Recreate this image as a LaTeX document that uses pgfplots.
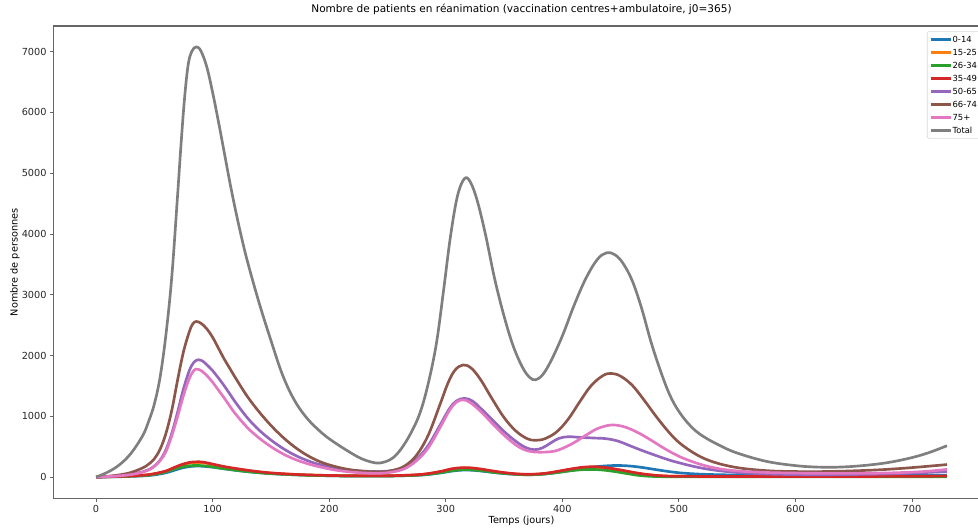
\documentclass[border=0pt]{standalone}
\usepackage{pgfplots}
\pgfplotsset{compat=1.18}
\usepackage{fontspec}
\setmainfont{DejaVu Sans}

\definecolor{c0}{HTML}{1F77B4}
\definecolor{c1}{HTML}{FF7F0E}
\definecolor{c2}{HTML}{2CA02C}
\definecolor{c3}{HTML}{D62728}
\definecolor{c4}{HTML}{9467BD}
\definecolor{c5}{HTML}{8C564B}
\definecolor{c6}{HTML}{E377C2}
\definecolor{c7}{HTML}{7F7F7F}

\begin{document}
\begin{tikzpicture}
\useasboundingbox (0,0) rectangle (733.5pt,396.75pt);
\clip (0,0) rectangle (733.5pt,396.75pt);
\begin{axis}[
  at={(40.125pt,22.875pt)}, anchor=south west,
  width=702pt, height=354.375pt, scale only axis,
  xmin=-36.5, xmax=766.5, ymin=-353.5, ymax=7423,
  xtick={0,100,...,700}, ytick={0,1000,...,7000},
  xtick pos=bottom, ytick pos=left,
  tick align=outside, major tick length=2.6pt,
  every tick/.style={black!60, line width=0.6pt},
  axis line style={black!60, line width=0.8pt},
  /pgf/number format/assume math mode=true,
  /pgf/number format/1000 sep={},
  ticklabel style={font=\fontsize{7.3}{8.5}\selectfont, text=black!85},
  xticklabel style={anchor=base, inner sep=0pt, yshift=-8.2pt},
  yticklabel style={anchor=east, inner sep=0pt, xshift=-2.4pt},
  title={Nombre de patients en réanimation (vaccination centres+ambulatoire, j0=365)},
  title style={font=\fontsize{7.9}{9}\selectfont, at={(axis description cs:0.5,1.0116)}, anchor=base},
  xlabel={Temps (jours)},
  xlabel style={font=\fontsize{7.3}{8.5}\selectfont, at={(axis description cs:0.5,-0.0519)}, anchor=base},
  ylabel={Nombre de personnes},
  ylabel style={font=\fontsize{7.3}{8.5}\selectfont, at={(axis description cs:-0.0412,0.5)}, anchor=center},
  legend cell align=left,
  legend style={at={(axis description cs:0.9332,0.9894)}, anchor=north west,
    draw=black!15, line width=0.5pt, rounded corners=1pt,
    font=\fontsize{6.3}{7.5}\selectfont, row sep=2.75pt,
    inner xsep=1.5pt, inner ysep=2.5pt,
    nodes={inner sep=0.5pt, text height=5pt, text depth=1pt}},
  legend image code/.code={\draw[#1, line width=2pt] (0pt,0pt) -- (15pt,0pt);},
  every axis plot/.append style={line width=2pt, smooth, tension=0.6, no markers, line join=round},
]
% 0-14
\addplot[c0] coordinates {(0,0)(20,5)(40,18)(50,35)(60,70)(65,98)(70,128)(75,155)(80,172)(86,180)(92,177)(100,162)(110,135)(120,110)(130,88)(140,70)(150,56)(165,41)(180,31)(200,21)(220,16)(240,15)(260,20)(280,34)(295,66)(305,97)(315,115)(325,109)(335,88)(345,66)(355,50)(365,40)(375,39)(385,50)(395,72)(405,101)(415,131)(425,160)(435,180)(445,190)(455,185)(465,167)(475,138)(485,108)(495,81)(505,62)(520,46)(540,36)(570,29)(600,26)(650,25)(700,28)(730,32)};
\addlegendentry{0-14}
% 15-25
\addplot[c1] coordinates {(0,0)(20,9)(40,28)(50,52)(60,95)(65,133)(70,172)(75,206)(80,230)(86,240)(92,235)(100,204)(110,165)(120,134)(130,106)(140,83)(150,65)(165,47)(180,35)(200,25)(220,20)(240,19)(260,24)(280,43)(295,86)(305,129)(315,148)(325,139)(335,111)(345,82)(355,59)(365,45)(375,44)(385,57)(395,86)(405,119)(415,148)(425,162)(435,152)(445,127)(455,94)(465,60)(475,35)(485,20)(500,12)(550,7)(600,7)(650,8)(700,11)(730,15)};
\addlegendentry{15-25}
% 26-34
\addplot[c2] coordinates {(0,0)(20,8)(40,25)(50,45)(60,85)(65,115)(70,145)(75,170)(80,185)(86,190)(92,185)(100,166)(110,137)(120,111)(130,89)(140,71)(150,56)(165,41)(180,30)(200,21)(220,16)(240,15)(260,20)(280,35)(295,70)(305,104)(315,122)(325,115)(335,93)(345,69)(355,51)(365,39)(375,38)(385,50)(395,72)(405,98)(415,118)(425,125)(435,115)(445,90)(455,58)(465,28)(475,12)(485,6)(500,3)(550,2)(600,2)(650,2)(700,3)(730,4)};
\addlegendentry{26-34}
% 35-49
\addplot[c3] coordinates {(0,0)(20,10)(40,30)(50,55)(60,100)(65,140)(70,180)(75,215)(80,240)(86,250)(92,245)(100,213)(110,172)(120,140)(130,111)(140,87)(150,68)(165,49)(180,36)(200,26)(220,21)(240,20)(260,25)(280,45)(295,90)(305,135)(315,155)(325,145)(335,116)(345,86)(355,62)(365,47)(375,46)(385,60)(395,90)(405,125)(415,155)(425,170)(435,160)(445,133)(455,98)(465,63)(475,37)(485,21)(500,12)(550,8)(600,8)(650,9)(700,12)(730,16)};
\addlegendentry{35-49}
% 50-65
\addplot[c4] coordinates {(0,0)(10,8)(20,22)(30,45)(40,85)(45,120)(50,180)(55,280)(60,450)(65,720)(70,1070)(75,1450)(80,1750)(84,1890)(88,1930)(92,1900)(96,1830)(100,1750)(105,1630)(110,1500)(115,1360)(120,1220)(130,970)(140,770)(150,610)(160,475)(170,365)(180,280)(190,215)(205,150)(220,110)(235,92)(245,92)(255,110)(265,170)(275,295)(285,520)(295,850)(303,1120)(309,1250)(316,1295)(323,1250)(330,1130)(340,940)(350,750)(360,590)(368,490)(376,450)(383,480)(390,560)(397,635)(405,663)(415,652)(427,642)(438,630)(448,590)(458,515)(468,440)(478,370)(490,290)(500,235)(515,165)(530,115)(550,75)(575,50)(600,40)(625,38)(650,42)(675,50)(700,65)(730,90)};
\addlegendentry{50-65}
% 66-74
\addplot[c5] coordinates {(0,0)(10,12)(20,35)(30,75)(40,150)(45,210)(50,300)(55,460)(60,720)(65,1100)(70,1600)(75,2060)(80,2390)(83,2520)(86,2560)(90,2530)(95,2440)(100,2300)(105,2120)(110,1940)(115,1780)(120,1620)(130,1320)(140,1070)(150,850)(160,660)(170,500)(180,370)(190,270)(200,200)(215,130)(230,95)(245,85)(255,110)(265,185)(275,360)(285,690)(295,1190)(302,1550)(308,1760)(315,1845)(322,1790)(330,1600)(340,1280)(350,980)(360,760)(370,630)(377,605)(385,630)(395,740)(405,950)(415,1240)(425,1510)(435,1670)(442,1705)(450,1660)(460,1510)(470,1270)(480,1010)(490,770)(500,570)(515,370)(530,245)(550,155)(575,105)(600,90)(625,90)(650,102)(675,122)(700,155)(730,205)};
\addlegendentry{66-74}
% 75+
\addplot[c6] coordinates {(0,0)(10,8)(20,20)(30,40)(40,80)(45,115)(50,175)(55,270)(60,420)(65,680)(70,1000)(75,1340)(80,1620)(84,1755)(87,1775)(91,1740)(96,1650)(100,1560)(105,1430)(110,1300)(115,1160)(120,1030)(130,810)(140,640)(150,500)(160,385)(170,295)(180,228)(190,175)(205,115)(220,80)(235,62)(245,62)(255,85)(265,140)(275,270)(285,480)(295,810)(303,1090)(309,1230)(315,1270)(321,1225)(330,1080)(340,880)(350,690)(360,530)(368,445)(376,412)(385,410)(393,425)(400,470)(410,565)(420,685)(430,795)(440,852)(447,852)(455,815)(465,730)(475,620)(485,500)(495,390)(505,300)(520,200)(535,135)(550,100)(565,83)(580,72)(600,65)(625,60)(650,60)(675,65)(700,80)(715,98)(730,125)};
\addlegendentry{75+}
% Total
\addplot[c7] coordinates {(0,0)(10,80)(20,200)(30,390)(40,680)(45,910)(50,1200)(55,1650)(60,2350)(65,3300)(70,4650)(73,5500)(76,6250)(79,6780)(82,7000)(86,7080)(90,7010)(95,6750)(100,6330)(105,5850)(110,5340)(115,4830)(120,4360)(125,3930)(130,3540)(140,2860)(150,2250)(160,1680)(170,1270)(180,990)(190,790)(200,630)(215,440)(228,300)(240,232)(248,250)(255,320)(262,470)(270,720)(278,1060)(285,1540)(292,2200)(298,3050)(304,3950)(310,4620)(316,4910)(321,4860)(327,4550)(334,4000)(342,3260)(350,2650)(358,2150)(366,1800)(372,1640)(377,1600)(383,1680)(390,1900)(400,2320)(410,2820)(420,3260)(430,3580)(438,3690)(445,3660)(452,3520)(460,3230)(468,2780)(476,2230)(484,1760)(492,1360)(500,1080)(510,840)(520,680)(535,520)(550,395)(575,258)(600,188)(620,163)(640,165)(660,192)(680,240)(700,320)(715,405)(730,515)};
\addlegendentry{Total}
\end{axis}
\end{tikzpicture}
\end{document}
